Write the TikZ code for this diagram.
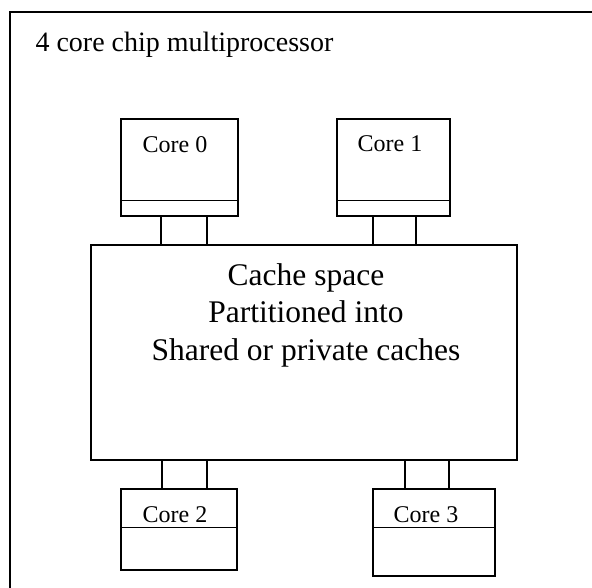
\documentclass[tikz,border=0pt]{standalone}
\usepackage{fontspec}
\setmainfont{Liberation Serif}
\usetikzlibrary{calc}
\tikzset{
	unitbox/.style={draw,line width=1.3pt,inner sep=0pt},
	corelabel/.style={anchor=base,font=\fontsize{24}{28}\selectfont},
	wire/.style={line width=1.3pt}
}

\begin{document}
\begin{tikzpicture}[x=1pt,y=-1pt]
	\useasboundingbox (0,0) rectangle (592,588);
	\clip (0,0) rectangle (592,588);
	% outer chip outline
	\draw[line width=1.8pt] (10,600) |- (600,12);
	\node[anchor=base west,font=\fontsize{28}{32}\selectfont] (title) at (32,52){4 core chip multiprocessor};

	% shared cache
	\node[unitbox,minimum width=426pt,minimum height=215pt] (cache) at (304,352.5){};
	\node[align=center,anchor=base,font=\fontsize{31.5}{37.5}\selectfont] (cachetext) at (306,360)
		{Cache space\\Partitioned into\\Shared or private caches};

	% cores
	\node[unitbox,minimum width=117pt,minimum height=97pt] (core0) at (179.5,167.5){};
	\node[unitbox,minimum width=113pt,minimum height=97pt] (core1) at (393.5,167.5){};
	\node[unitbox,minimum width=116pt,minimum height=81pt] (core2) at (179,529.5){};
	\node[unitbox,minimum width=122pt,minimum height=87pt] (core3) at (434,532.5){};
	\node[corelabel] (l0) at (175,153){Core 0};
	\node[corelabel] (l1) at (390,152){Core 1};
	\node[corelabel] (l2) at (175,522){Core 2};
	\node[corelabel] (l3) at (426,522){Core 3};

	% dividers
	\draw[wire] ($(core0.south west)+(0,-16)$) -- ($(core0.south east)+(0,-16)$);
	\draw[wire] ($(core1.south west)+(0,-16)$) -- ($(core1.south east)+(0,-16)$);
	\draw[wire] ($(core2.north west)+(0,39)$) -- ($(core2.north east)+(0,39)$);
	\draw[wire] ($(core3.north west)+(0,39)$) -- ($(core3.north east)+(0,39)$);

	% links to the cache
	\draw[wire] (core0.south -| 161,0) -- (cache.north -| 161,0);
	\draw[wire] (core0.south -| 207,0) -- (cache.north -| 207,0);
	\draw[wire] (core1.south -| 373,0) -- (cache.north -| 373,0);
	\draw[wire] (core1.south -| 416,0) -- (cache.north -| 416,0);
	\draw[wire] (cache.south -| 162,0) -- (core2.north -| 162,0);
	\draw[wire] (cache.south -| 207,0) -- (core2.north -| 207,0);
	\draw[wire] (cache.south -| 405,0) -- (core3.north -| 405,0);
	\draw[wire] (cache.south -| 449,0) -- (core3.north -| 449,0);
\end{tikzpicture}
\end{document}
